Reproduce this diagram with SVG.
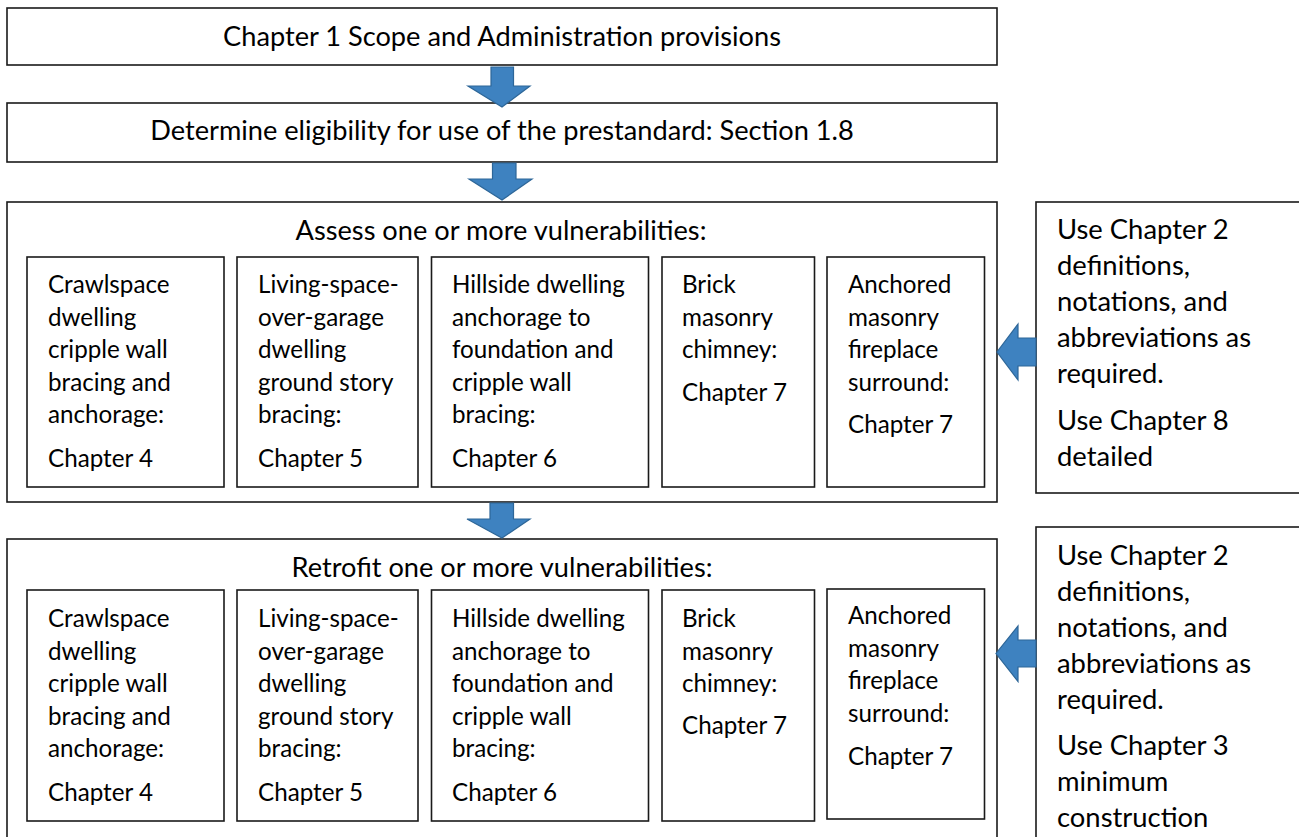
<svg xmlns="http://www.w3.org/2000/svg" width="1299" height="837" viewBox="0 0 1299 837">
<style>
.box{fill:#fff;stroke:#1a1a1a;stroke-width:1.6}
.t{font-family:Lato,"Open Sans",sans-serif;font-size:24.2px;fill:#000}
.c{text-anchor:middle;font-size:27.2px}
.r{font-size:27.4px}
.arr{fill:#3E82C0;stroke:#2D6698;stroke-width:1.2}
</style>
<rect width="1299" height="837" fill="#fff"/>
<g id="n-scope">
<rect class="box" x="7" y="8" width="990" height="57"/>
<text class="t c" x="502" y="46">Chapter 1 Scope and Administration provisions</text>
</g>
<g id="n-eligibility">
<rect class="box" x="7" y="103" width="990" height="59"/>
<text class="t c" x="502" y="140">Determine eligibility for use of the prestandard: Section 1.8</text>
</g>
<g id="n-assess">
<rect class="box" x="7" y="202" width="990" height="300"/>
<text class="t c" x="501" y="240">Assess one or more vulnerabilities:</text>
</g>
<g id="n-assess-crawl">
<rect class="box" x="27" y="257" width="197" height="230"/>
<text class="t" x="48"><tspan x="48" y="293">Crawlspace</tspan><tspan x="48" y="325.5">dwelling</tspan><tspan x="48" y="358">cripple wall</tspan><tspan x="48" y="390.5">bracing and</tspan><tspan x="48" y="423">anchorage:</tspan><tspan x="48" y="466.5">Chapter 4</tspan></text>
</g>
<g id="n-assess-garage">
<rect class="box" x="237" y="257" width="181" height="230"/>
<text class="t" x="258"><tspan x="258" y="293">Living-space-</tspan><tspan x="258" y="325.5">over-garage</tspan><tspan x="258" y="358">dwelling</tspan><tspan x="258" y="390.5">ground story</tspan><tspan x="258" y="423">bracing:</tspan><tspan x="258" y="466.5">Chapter 5</tspan></text>
</g>
<g id="n-assess-hillside">
<rect class="box" x="431.5" y="257" width="217" height="230"/>
<text class="t" x="452"><tspan x="452" y="293">Hillside dwelling</tspan><tspan x="452" y="325.5">anchorage to</tspan><tspan x="452" y="358">foundation and</tspan><tspan x="452" y="390.5">cripple wall</tspan><tspan x="452" y="423">bracing:</tspan><tspan x="452" y="466.5">Chapter 6</tspan></text>
</g>
<g id="n-assess-chimney">
<rect class="box" x="662" y="257" width="152.5" height="230"/>
<text class="t" x="682"><tspan x="682" y="293">Brick</tspan><tspan x="682" y="325.5">masonry</tspan><tspan x="682" y="358">chimney:</tspan><tspan x="682" y="400.5">Chapter 7</tspan></text>
</g>
<g id="n-assess-fireplace">
<rect class="box" x="827" y="257" width="157.5" height="230"/>
<text class="t" x="848"><tspan x="848" y="293">Anchored</tspan><tspan x="848" y="325.5">masonry</tspan><tspan x="848" y="358">fireplace</tspan><tspan x="848" y="390.5">surround:</tspan><tspan x="848" y="433">Chapter 7</tspan></text>
</g>
<g id="n-note-assess">
<rect class="box" x="1036" y="202" width="280" height="291"/>
<text class="t r" x="1057"><tspan x="1057" y="239">Use Chapter 2</tspan><tspan x="1057" y="275">definitions,</tspan><tspan x="1057" y="311">notations, and</tspan><tspan x="1057" y="347">abbreviations as</tspan><tspan x="1057" y="383">required.</tspan><tspan x="1057" y="430">Use Chapter 8</tspan><tspan x="1057" y="466">detailed</tspan></text>
</g>
<g id="n-retrofit">
<rect class="box" x="7" y="539" width="990" height="320"/>
<text class="t c" x="502" y="577">Retrofit one or more vulnerabilities:</text>
</g>
<g id="n-retrofit-crawl">
<rect class="box" x="27" y="590" width="197" height="231"/>
<text class="t" x="48"><tspan x="48" y="627">Crawlspace</tspan><tspan x="48" y="659.5">dwelling</tspan><tspan x="48" y="692">cripple wall</tspan><tspan x="48" y="724.5">bracing and</tspan><tspan x="48" y="757">anchorage:</tspan><tspan x="48" y="800.5">Chapter 4</tspan></text>
</g>
<g id="n-retrofit-garage">
<rect class="box" x="237" y="590" width="181" height="231"/>
<text class="t" x="258"><tspan x="258" y="627">Living-space-</tspan><tspan x="258" y="659.5">over-garage</tspan><tspan x="258" y="692">dwelling</tspan><tspan x="258" y="724.5">ground story</tspan><tspan x="258" y="757">bracing:</tspan><tspan x="258" y="800.5">Chapter 5</tspan></text>
</g>
<g id="n-retrofit-hillside">
<rect class="box" x="431.5" y="590" width="217" height="231"/>
<text class="t" x="452"><tspan x="452" y="627">Hillside dwelling</tspan><tspan x="452" y="659.5">anchorage to</tspan><tspan x="452" y="692">foundation and</tspan><tspan x="452" y="724.5">cripple wall</tspan><tspan x="452" y="757">bracing:</tspan><tspan x="452" y="800.5">Chapter 6</tspan></text>
</g>
<g id="n-retrofit-chimney">
<rect class="box" x="662" y="590" width="152.5" height="231"/>
<text class="t" x="682"><tspan x="682" y="627">Brick</tspan><tspan x="682" y="659.5">masonry</tspan><tspan x="682" y="692">chimney:</tspan><tspan x="682" y="734">Chapter 7</tspan></text>
</g>
<g id="n-retrofit-fireplace">
<rect class="box" x="827" y="589" width="157.5" height="230"/>
<text class="t" x="848"><tspan x="848" y="624">Anchored</tspan><tspan x="848" y="656.5">masonry</tspan><tspan x="848" y="689">fireplace</tspan><tspan x="848" y="721.5">surround:</tspan><tspan x="848" y="765">Chapter 7</tspan></text>
</g>
<g id="n-note-retrofit">
<rect class="box" x="1036" y="527" width="280" height="330"/>
<text class="t r" x="1057"><tspan x="1057" y="565">Use Chapter 2</tspan><tspan x="1057" y="601">definitions,</tspan><tspan x="1057" y="637">notations, and</tspan><tspan x="1057" y="673">abbreviations as</tspan><tspan x="1057" y="709">required.</tspan><tspan x="1057" y="755">Use Chapter 3</tspan><tspan x="1057" y="791">minimum</tspan><tspan x="1057" y="827">construction</tspan></text>
</g>
<g id="connectors">
<polygon class="arr" points="491,67 513.5,67 513.5,86 530,86 502,107 468,86 491,86"/>
<polygon class="arr" points="492.5,163 516,163 516,179 532,179 502,200 469,179 492.5,179"/>
<polygon class="arr" points="490,503 513.5,503 513.5,519 530,519 502,538 467,519 490,519"/>
<polygon class="arr" points="1036,338 1018,338 1018,324 997,352 1018,380 1018,366 1036,366"/>
<polygon class="arr" points="1036,640 1018,640 1018,626 996,653.5 1018,681.5 1018,667 1036,667"/>
</g>
</svg>
